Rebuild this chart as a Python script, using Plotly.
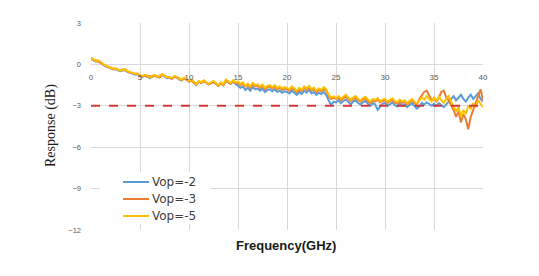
import numpy as np
import plotly.graph_objects as go

freq = list(np.round(np.arange(0, 40.001, 0.25), 2))

vop_m2 = [0.4,0.3,0.2,0.25,0.1,-0.05,-0.15,-0.2,-0.3,-0.35,-0.35,-0.4,-0.5,-0.45,-0.4,-0.55,-0.6,-0.65,-0.75,-0.7,
          -0.85,-0.9,-0.8,-0.85,-1.0,-0.9,-0.8,-0.95,-0.9,-0.75,-0.85,-1.0,-0.95,-1.05,-0.9,-0.95,-1.1,-1.15,-1.0,-1.1,
          -1.25,-1.15,-1.35,-1.5,-1.25,-1.35,-1.2,-1.3,-1.45,-1.35,-1.3,-1.4,-1.55,-1.35,-1.5,-1.2,-1.3,-1.4,-1.25,-1.4,
          -1.55,-1.7,-1.6,-1.85,-1.7,-1.9,-1.65,-1.8,-1.75,-1.9,-1.75,-2.0,-1.85,-1.8,-1.95,-1.8,-2.0,-1.9,-2.05,-1.95,
          -2.0,-2.1,-1.9,-2.05,-2.2,-2.0,-2.15,-1.9,-2.05,-1.85,-2.1,-2.0,-2.2,-2.05,-2.15,-2.0,-2.2,-2.6,-2.95,-2.7,
          -2.75,-2.6,-2.8,-2.65,-2.55,-2.7,-2.9,-2.7,-2.6,-2.8,-2.9,-2.75,-2.65,-2.85,-3.0,-2.8,-2.9,-3.3,-3.1,-2.85,
          -2.8,-3.0,-2.9,-2.75,-2.95,-3.05,-2.85,-3.0,-2.9,-3.1,-2.95,-2.8,-3.0,-3.2,-3.05,-2.8,-2.9,-2.75,-2.85,-3.0,
          -2.85,-3.0,-2.8,-2.95,-3.1,-2.9,-2.7,-2.5,-2.3,-2.6,-2.4,-2.2,-2.5,-2.7,-2.4,-2.2,-2.5,-2.3,-2.1,-2.5,-2.7]

vop_m3 = [0.5,0.3,0.3,0.2,0.1,0.0,-0.15,-0.2,-0.25,-0.35,-0.3,-0.4,-0.45,-0.35,-0.4,-0.55,-0.6,-0.65,-0.7,-0.7,
          -0.85,-0.8,-0.8,-0.9,-0.85,-0.9,-0.8,-0.85,-0.95,-0.75,-0.85,-0.9,-0.95,-1.05,-0.9,-0.95,-1.0,-1.15,-1.0,-1.1,
          -1.25,-1.15,-1.35,-1.4,-1.25,-1.35,-1.2,-1.3,-1.45,-1.35,-1.25,-1.4,-1.55,-1.35,-1.5,-1.2,-1.3,-1.4,-1.2,-1.35,
          -1.35,-1.5,-1.4,-1.6,-1.5,-1.7,-1.45,-1.6,-1.55,-1.7,-1.55,-1.8,-1.65,-1.6,-1.75,-1.6,-1.8,-1.7,-1.85,-1.75,
          -1.8,-1.9,-1.7,-1.85,-2.0,-1.8,-1.95,-1.7,-1.85,-1.65,-1.9,-1.8,-2.0,-1.85,-1.95,-1.8,-1.9,-2.3,-2.5,-2.4,
          -2.5,-2.4,-2.6,-2.45,-2.35,-2.5,-2.65,-2.5,-2.4,-2.6,-2.7,-2.55,-2.45,-2.65,-2.8,-2.6,-2.7,-2.55,-2.75,-2.65,
          -2.6,-2.8,-2.7,-2.55,-2.75,-2.85,-2.65,-2.8,-2.7,-2.9,-2.75,-2.6,-2.8,-2.95,-2.5,-2.2,-2.0,-1.9,-2.3,-2.6,
          -2.5,-2.7,-2.4,-2.0,-1.9,-2.4,-2.6,-2.9,-3.3,-3.8,-3.4,-4.2,-3.6,-4.0,-4.7,-3.8,-3.3,-2.9,-2.3,-1.8,-2.6]

vop_m5 = [0.45,0.35,0.25,0.3,0.15,0.0,-0.1,-0.15,-0.25,-0.3,-0.3,-0.35,-0.45,-0.4,-0.35,-0.5,-0.55,-0.6,-0.7,-0.65,
          -0.8,-0.85,-0.75,-0.8,-0.95,-0.85,-0.75,-0.9,-0.85,-0.7,-0.8,-0.95,-0.9,-1.0,-0.85,-0.9,-1.05,-1.1,-0.95,-1.05,
          -1.2,-1.1,-1.3,-1.45,-1.2,-1.3,-1.15,-1.25,-1.4,-1.3,-1.2,-1.35,-1.5,-1.3,-1.45,-1.1,-1.25,-1.35,-1.15,-1.3,
          -1.25,-1.4,-1.3,-1.55,-1.4,-1.6,-1.35,-1.5,-1.45,-1.6,-1.45,-1.7,-1.55,-1.5,-1.65,-1.5,-1.7,-1.6,-1.75,-1.65,
          -1.7,-1.8,-1.6,-1.75,-1.9,-1.7,-1.85,-1.6,-1.75,-1.55,-1.8,-1.7,-1.9,-1.75,-1.85,-1.65,-1.8,-2.2,-2.4,-2.3,
          -2.45,-2.3,-2.5,-2.35,-2.2,-2.4,-2.55,-2.4,-2.3,-2.5,-2.6,-2.45,-2.35,-2.55,-2.7,-2.5,-2.6,-2.45,-2.65,-2.55,
          -2.5,-2.7,-2.6,-2.45,-2.65,-2.75,-2.55,-2.7,-2.6,-2.8,-2.65,-2.5,-2.7,-2.85,-2.6,-2.4,-2.55,-2.3,-2.5,-2.7,
          -2.4,-2.6,-2.35,-2.55,-2.8,-2.5,-2.3,-2.7,-3.0,-3.4,-3.1,-3.8,-3.3,-3.6,-3.0,-3.2,-2.8,-3.1,-2.6,-2.9,-3.1]

series_names = ["Vop=-2", "Vop=-3", "Vop=-5"]
series_colors = ["#5B9BD5", "#ED7D31", "#FFC000"]
threshold = -3
x_ticks = [0, 5, 10, 15, 20, 25, 30, 35, 40]
y_ticks = [3, 0, -3, -6, -9, -12]

W, H = 539, 276
L, R, T, B = 91, 56, 23, 46
pw, ph = W - L - R, H - T - B


def px(xp):
    return (xp - L) / pw


def py(yp):
    return (H - B - yp) / ph


fig = go.Figure()
for name, vals, col in zip(series_names, [vop_m2, vop_m3, vop_m5], series_colors):
    fig.add_trace(go.Scatter(x=freq[:len(vals)], y=vals, mode="lines", name=name,
                             showlegend=False, line=dict(color=col, width=2)))

fig.add_trace(go.Scatter(x=[x_ticks[0], x_ticks[-1]], y=[threshold, threshold], mode="lines",
                         showlegend=False, line=dict(color="#D23A3A", width=2, dash="dash")))

shapes = [dict(type="rect", xref="paper", yref="paper", x0=px(100), x1=px(210),
               y0=py(224), y1=py(172), fillcolor="white", line=dict(width=0), layer="above")]
annotations = []
legend_rows = [182, 199, 216]
for name, col, yy in zip(series_names, series_colors, legend_rows):
    shapes.append(dict(type="line", xref="paper", yref="paper", x0=px(123), x1=px(149),
                       y0=py(yy), y1=py(yy), line=dict(color=col, width=2), layer="above"))
    annotations.append(dict(text=name, x=px(150), xref="paper", xanchor="left",
                            y=py(yy), yref="paper", yanchor="middle", showarrow=False,
                            font=dict(family="DejaVu Sans", size=12, color="#404040")))

annotations += [
    dict(text="Response (dB)", textangle=-90, x=px(51), xref="paper", xanchor="center",
         y=py(126), yref="paper", yanchor="middle", showarrow=False,
         font=dict(family="Liberation Serif, Times New Roman", size=14, color="#1a1a1a")),
    dict(text="<b>Frequency(GHz)</b>", x=px(286), xref="paper", xanchor="center",
         y=py(245), yref="paper", yanchor="middle", showarrow=False,
         font=dict(family="Arial, Liberation Sans", size=13, color="#1a1a1a")),
]

fig.update_layout(
    width=W, height=H,
    margin=dict(l=L, r=R, t=T, b=B),
    paper_bgcolor="white", plot_bgcolor="white",
    font=dict(family="Arial, Liberation Sans", size=7.5, color="#595959"),
    showlegend=False,
    xaxis=dict(range=[0, 40], tickvals=x_ticks, showgrid=True, gridcolor="#D9D9D9", gridwidth=1,
               zeroline=False, showline=False, ticks="", anchor="free", position=0.8,
               ticklabelstandoff=7, tickfont=dict(size=8, color="#595959")),
    yaxis=dict(range=[-12, 3], tickvals=y_ticks, showgrid=True, gridcolor="#D9D9D9", gridwidth=1,
               zeroline=False, showline=False, ticks="", ticklabelstandoff=9,
               tickfont=dict(size=7.5, color="#595959")),
    shapes=shapes,
    annotations=annotations,
)

fig.write_html("out.html")
